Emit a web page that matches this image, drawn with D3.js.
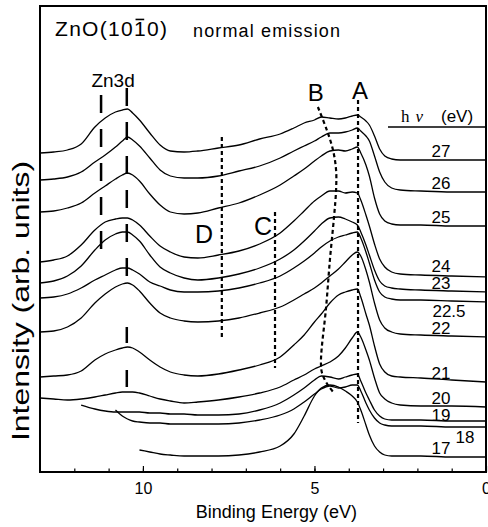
<!DOCTYPE html>
<html>
  <head>
    <meta charset="utf-8">
    <title>ZnO(10-10) normal emission</title>
    <script src="https://cdn.jsdelivr.net/npm/d3@7/dist/d3.min.js"></script>
    <style>
      body { margin: 0; background: #fff; }
      text { font-family: "Liberation Sans", Arial, sans-serif; fill: #000; }
    </style>
  </head>
  <body>
    <svg width="488" height="527" id="mainsvg"></svg>
    <script>
        // binding energy grid (eV), shared by all spectra
        const energy = [13.0, 12.6, 12.2, 11.8, 11.4, 11.1, 10.8, 10.6, 10.45, 10.3,
                        10.1, 9.8, 9.5, 9.2, 8.8, 8.4, 7.8, 7.2, 6.6, 6.0,
                        5.6, 5.3, 5.0, 4.8, 4.55, 4.3, 4.1, 3.9, 3.75, 3.65,
                        3.5, 3.4, 3.25, 3.1, 2.95, 2.75, 2.5, 1.9, 1.0, 0.0];

        // photon energies, top spectrum first
        const photonEnergy = ['27', '26', '25', '24', '23', '22.5', '22', '21', '20', '19', '18', '17'];

        // intensity (arb. units, offset stacked)
        const s27 = [319, 320, 322, 328, 345, 354, 360, 362, 363, 359, 352, 339, 327, 321, 320, 321, 324, 327, 333, 338,
                     344, 349, 352, 355, 354, 353, 354, 356, 357, 355, 351, 347, 336, 323, 316, 313, 312, 312, 312, 312];
        const s26 = [292, 293, 295, 300, 310, 317, 325, 331, 335, 332, 326, 314, 302, 296, 294, 294, 296, 301, 306, 314,
                     321, 326, 331, 335, 339, 339, 340, 342, 344, 341, 336, 331, 316, 300, 290, 284, 282, 281, 280, 280];
        const s25 = [260, 261, 264, 269, 279, 286, 293, 297, 299, 297, 291, 278, 267, 260, 258, 259, 264, 269, 277, 287,
                     296, 303, 311, 316, 321, 322, 321, 323, 325, 319, 307, 296, 274, 258, 251, 248, 247, 247, 246, 246];
        const s24 = [210, 212, 216, 227, 242, 250, 253, 254, 254, 252, 247, 236, 226, 220, 215, 214, 217, 221, 228, 239,
                     251, 261, 271, 276, 281, 281, 279, 280, 279, 272, 257, 246, 228, 213, 205, 200, 198, 197, 196, 195];
        const s23 = [189, 191, 196, 206, 222, 232, 238, 240, 240, 237, 231, 217, 205, 199, 194, 192, 194, 198, 204, 213,
                     222, 231, 241, 248, 254, 255, 253, 250, 247, 240, 227, 217, 202, 191, 186, 184, 183, 182, 181, 180];
        const s22_5 = [174, 175, 178, 184, 192, 197, 202, 204, 204, 202, 198, 190, 186, 182, 180, 180, 181, 184, 189, 196,
                       204, 211, 219, 225, 231, 235, 237, 239, 240, 234, 220, 209, 192, 180, 175, 173, 172, 172, 171, 170];
        const s22 = [140, 141, 145, 154, 169, 178, 185, 188, 189, 187, 181, 169, 159, 154, 151, 150, 151, 154, 159, 165,
                     172, 178, 184, 189, 196, 203, 210, 217, 220, 216, 202, 190, 169, 152, 144, 140, 138, 137, 136, 135];
        const s21 = [95, 96, 97, 101, 112, 118, 122, 124, 125, 124, 120, 112, 105, 100, 97, 96, 98, 102, 107, 115,
                     127, 137, 150, 158, 169, 177, 180, 182, 183, 175, 158, 147, 126, 108, 100, 96, 95, 94, 92, 90];
        const s20 = [74, 73, 72, 73, 75, 77, 79, 80, 80, 80, 79, 76, 73, 71, 69, 70, 72, 75, 79, 85,
                     92, 97, 103, 106, 110, 116, 124, 134, 140, 135, 122, 112, 94, 79, 73, 69, 67, 66, 66, 65];
        const s19 = [null, null, null, 67, 63, 61, 60, 60, 60, 60, 60, 59, 59, 58, 58, 57, 57, 58, 62, 69,
                     77, 84, 92, 96, 95, 93, 95, 97, 98, 91, 79, 72, 62, 56, 53, 52, 52, 52, 51, 51];
        const s18 = [null, null, null, null, null, null, 62, 56, 53, 51, 50, 49, 49, 48, 48, 48, 48, 49, 52, 57,
                     63, 70, 78, 83, 86, 84, 85, 87, 87, 81, 69, 62, 54, 49, 47, 46, 46, 46, 45, 45];
        const s17 = [null, null, null, null, null, null, null, null, null, null, 22, 20, 18, 17, 16, 16, 16, 17, 20, 26,
                     38, 56, 76, 84, 87, 85, 81, 76, 70, 62, 47, 37, 26, 20, 17, 16, 16, 16, 15, 15];
        const intensity = [s27, s26, s25, s24, s23, s22_5, s22, s21, s20, s19, s18, s17];

        // peak guide lines [energy, intensity]
        const peakA = [[3.73, 372], [3.73, 49]];
        const peakB = [[4.90, 365], [4.64, 342], [4.46, 322], [4.37, 302], [4.37, 282], [4.43, 255],
                       [4.55, 212], [4.66, 165], [4.81, 112], [4.78, 99], [4.61, 87], [4.43, 79]];
        const peakC = [[6.15, 260], [6.15, 104]];
        const peakD = [[7.70, 335], [7.70, 134]];
        const zn3d = [[[11.22, 377], [11.22, 217]], [[10.47, 384], [10.47, 187]],
                      [[10.47, 145], [10.47, 129]], [[10.47, 102], [10.47, 85]]];

        const xTicks = [10, 5, 0];

        const svg = d3.select('#mainsvg');
        const width = +svg.attr('width');
        const height = +svg.attr('height');
        const margin = {top: 6, right: 2, bottom: 55, left: 40};
        const innerWidth = width - margin.left - margin.right;
        const innerHeight = height - margin.top - margin.bottom;
        const g = svg.append('g').attr('id', 'maingroup')
          .attr('transform', `translate(${margin.left}, ${margin.top})`);

        const xScale = d3.scaleLinear().domain([13, 0]).range([0, innerWidth]);
        const yScale = d3.scaleLinear().domain([0, 466]).range([innerHeight, 0]);

        // minor ticks every 1 eV, major ticks labelled, both pointing inward
        g.append('g').attr('transform', `translate(0, ${innerHeight})`)
          .call(d3.axisBottom(xScale).tickValues(d3.range(1, 13)).tickSize(-3.5).tickFormat(''))
          .call(ax => ax.select('.domain').remove());
        const xAxis = g.append('g').attr('transform', `translate(0, ${innerHeight})`)
          .call(d3.axisBottom(xScale).tickValues(xTicks).tickSize(-6).tickPadding(11).tickFormat(d3.format('d')));
        xAxis.select('.domain').remove();
        xAxis.selectAll('text').attr('font-size', 16).attr('font-family', '"Liberation Sans", Arial, sans-serif');
        g.selectAll('.tick line').attr('stroke', '#000').attr('stroke-width', 1.2);

        // spectra
        const spectra = photonEnergy.map((hv, i) => ({hv, points: energy.map((e, j) => [e, intensity[i][j]])}));
        const line = d3.line()
          .defined(d => d[1] != null)
          .x(d => xScale(d[0]))
          .y(d => yScale(d[1]))
          .curve(d3.curveMonotoneX);
        g.selectAll('.spectrum').data(spectra).join('path')
          .attr('class', 'spectrum')
          .attr('fill', 'none')
          .attr('stroke', '#000')
          .attr('stroke-width', 1.3)
          .attr('d', d => line(d.points));

        // photon energy labels sitting on each spectrum's tail
        const labelNudge = {'22.5': [8, 18], '19': [0, 3], '18': [24, 19], '24': [0, -2]};
        g.selectAll('.hv').data(spectra).join('text')
          .attr('class', 'hv')
          .attr('text-anchor', 'middle')
          .attr('font-size', 17)
          .attr('x', d => innerWidth - 45 + (labelNudge[d.hv] || [0, 0])[0])
          .attr('y', d => yScale(d.points[d.points.length - 1][1]) - 3 + (labelNudge[d.hv] || [0, 0])[1])
          .text(d => d.hv);

        // guide lines
        const guide = d3.line().x(d => xScale(d[0])).y(d => yScale(d[1]));
        [peakA, peakC, peakD].forEach(p => g.append('path').attr('d', guide(p))
          .attr('fill', 'none').attr('stroke', '#000').attr('stroke-width', 2.2).attr('stroke-dasharray', '4,3'));
        g.append('path').attr('d', guide.curve(d3.curveCatmullRom)(peakB))
          .attr('fill', 'none').attr('stroke', '#000').attr('stroke-width', 2.2).attr('stroke-dasharray', '4,3');
        guide.curve(d3.curveLinear);
        zn3d.forEach(p => g.append('path').attr('d', guide(p))
          .attr('fill', 'none').attr('stroke', '#000').attr('stroke-width', 2.5).attr('stroke-dasharray', '18,16'));

        // peak letters
        const letters = [{t: 'A', e: 3.67, i: 373, s: 24}, {t: 'B', e: 4.96, i: 371, s: 24},
                         {t: 'C', e: 6.50, i: 237, s: 25}, {t: 'D', e: 8.22, i: 229, s: 25},
                         {t: 'Zn3d', e: 10.87, i: 385, s: 19}];
        g.selectAll('.letter').data(letters).join('text')
          .attr('class', 'letter')
          .attr('text-anchor', 'middle')
          .attr('x', d => xScale(d.e)).attr('y', d => yScale(d.i))
          .attr('font-size', d => d.s)
          .text(d => d.t);

        // frame
        g.append('rect').attr('width', innerWidth).attr('height', innerHeight)
          .attr('fill', 'none').attr('stroke', '#000').attr('stroke-width', 2);

        // title with overbar on the second "1"
        const title = svg.append('text').attr('x', 55).attr('y', 36).attr('font-size', 21)
          .attr('textLength', 112).attr('lengthAdjust', 'spacing')
          .text('ZnO(1010)');
        const ext = title.node().getExtentOfChar(6);
        svg.append('line')
          .attr('x1', ext.x + 1.5).attr('x2', ext.x + ext.width - 1.5)
          .attr('y1', 36 - 0.716 * 21 - 1.5).attr('y2', 36 - 0.716 * 21 - 1.5)
          .attr('stroke', '#000').attr('stroke-width', 1.6);
        svg.append('text').attr('x', 193).attr('y', 37).attr('font-size', 18)
          .attr('textLength', 147).attr('lengthAdjust', 'spacing')
          .text('normal emission');

        // h nu (eV) header
        const head = svg.append('text').attr('x', 401).attr('y', 122).attr('font-size', 17);
        head.append('tspan').attr('font-family', '"Liberation Serif", "Times New Roman", serif').text('h');
        head.append('tspan').attr('font-family', '"Liberation Serif", "Times New Roman", serif')
          .attr('font-style', 'italic').attr('dx', 6).text('ν');
        head.append('tspan').attr('x', 441).text('(eV)');
        svg.append('line').attr('x1', 388).attr('x2', width - 2).attr('y1', 127).attr('y2', 127)
          .attr('stroke', '#000').attr('stroke-width', 1.5);

        // axis titles
        svg.append('text').attr('text-anchor', 'middle')
          .attr('x', margin.left + innerWidth * 0.53).attr('y', 518).attr('font-size', 18)
          .text('Binding Energy (eV)');
        svg.append('text').attr('text-anchor', 'middle')
          .attr('transform', `translate(29, 301) rotate(-90)`)
          .attr('font-size', 24)
          .attr('textLength', 280).attr('lengthAdjust', 'spacingAndGlyphs')
          .text('Intensity (arb. units)');
    </script>
  </body>
</html>
